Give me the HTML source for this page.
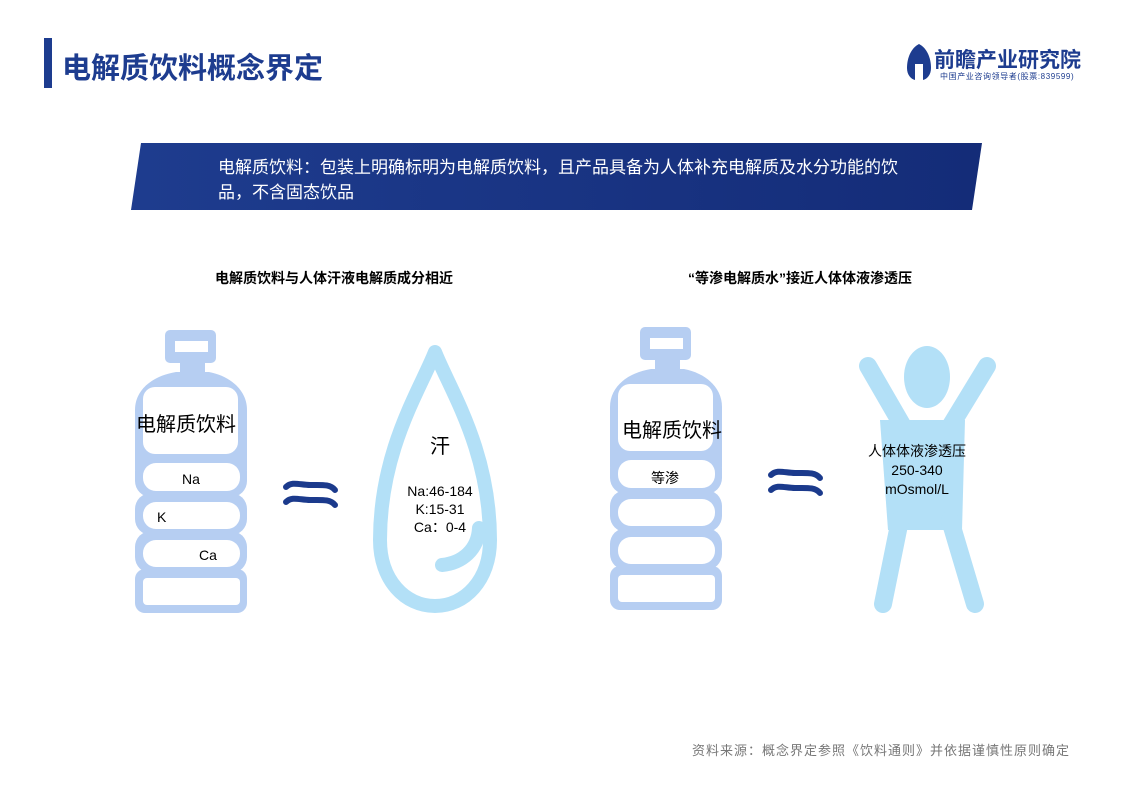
<!DOCTYPE html>
<html><head><meta charset="utf-8"><style>
body{margin:0;width:1123px;height:793px;background:#fff;position:relative;overflow:hidden;font-family:"Liberation Sans","Noto Sans CJK SC",sans-serif}
.a{position:absolute;white-space:nowrap}
</style></head><body>
<div class="a" style="left:44px;top:38px;width:8px;height:50px;background:#1d3c8f"></div>
<div class="a" style="left:62px;top:45px;font-size:29px;color:#1d3c8f;font-weight:bold;letter-spacing:0px">电解质饮料概念界定</div>
<svg class="a" style="left:907px;top:44px" width="24" height="36"><path d="M12 0 C4 4 0 14 0 24 C0 31 4 35 8 36 L8 20 L16 20 L16 36 C20 35 24 31 24 24 C24 14 20 4 12 0Z" fill="#1d3c8f"/></svg>
<div class="a" style="left:934px;top:44px;font-size:21px;color:#1d3c8f;font-weight:bold">前瞻产业研究院</div>
<div class="a" style="left:940px;top:71px;font-size:8px;color:#1d3c8f;letter-spacing:0.6px">中国产业咨询领导者(股票:839599)</div>
<svg class="a" style="left:0;top:0" width="1123" height="793">
<defs><linearGradient id="g" x1="0" x2="1"><stop offset="0" stop-color="#1e3c8e"/><stop offset="1" stop-color="#142c78"/></linearGradient></defs>
<polygon points="141,143 982,143 972,210 131,210" fill="url(#g)"/>
<g fill="#b6cef2">
<rect x="165" y="330" width="51" height="33" rx="5"/>
<rect x="180" y="360" width="25" height="18"/>
<path d="M176 372 L209 372 C230 376 247 390 247 410 L247 470 L135 470 L135 410 C135 390 152 376 176 372Z"/>
<rect x="135" y="455" width="112" height="42" rx="16"/>
<rect x="135" y="493" width="112" height="42" rx="16"/>
<rect x="135" y="531" width="112" height="42" rx="16"/>
<rect x="135" y="569" width="112" height="44" rx="10"/>
</g>
<g fill="#fff">
<rect x="175" y="341" width="33" height="11"/>
<rect x="143" y="387" width="95" height="67" rx="12"/>
<rect x="143" y="463" width="97" height="28" rx="13"/>
<rect x="143" y="502" width="97" height="27" rx="13"/>
<rect x="143" y="540" width="97" height="27" rx="13"/>
<rect x="143" y="578" width="97" height="27" rx="4"/>
</g>
<g transform="translate(475,-3)">
<g fill="#b6cef2">
<rect x="165" y="330" width="51" height="33" rx="5"/>
<rect x="180" y="360" width="25" height="18"/>
<path d="M176 372 L209 372 C230 376 247 390 247 410 L247 470 L135 470 L135 410 C135 390 152 376 176 372Z"/>
<rect x="135" y="455" width="112" height="42" rx="16"/>
<rect x="135" y="493" width="112" height="42" rx="16"/>
<rect x="135" y="531" width="112" height="42" rx="16"/>
<rect x="135" y="569" width="112" height="44" rx="10"/>
</g>
<g fill="#fff">
<rect x="175" y="341" width="33" height="11"/>
<rect x="143" y="387" width="95" height="67" rx="12"/>
<rect x="143" y="463" width="97" height="28" rx="13"/>
<rect x="143" y="502" width="97" height="27" rx="13"/>
<rect x="143" y="540" width="97" height="27" rx="13"/>
<rect x="143" y="578" width="97" height="27" rx="4"/>
</g></g>
<path d="M435 352 C420 390 380 450 380 540 C380 580 405 606 435 606 C465 606 490 580 490 540 C490 450 450 390 435 352Z" fill="none" stroke="#b3e0f7" stroke-width="14" stroke-linejoin="round"/>
<path d="M479 528 C478 550 462 563 442 565" fill="none" stroke="#b3e0f7" stroke-width="14" stroke-linecap="round"/>
<g fill="none" stroke="#1b3a8c" stroke-width="6" stroke-linecap="round">
<path d="M286 487 C292 481 300 485 310 485 C322 485 330 484 335 490"/>
<path d="M286 502 C292 496 300 500 310 500 C322 500 330 499 335 505"/>
<path d="M771 475 C777 469 785 473 795 473 C807 473 815 472 820 478"/>
<path d="M771 490 C777 484 785 488 795 488 C807 488 815 487 820 493"/>
</g>
<g fill="#b3e0f7" stroke="#b3e0f7">
<ellipse cx="927" cy="377" rx="23" ry="31" stroke="none"/>
<path d="M868 366 L905 430 M987 366 L948 430" stroke-width="18" stroke-linecap="round" fill="none"/>
<path d="M880 420 L965 420 L962 530 L888 530Z" stroke="none"/>
<path d="M900 520 L883 604 M950 520 L975 604" stroke-width="18" stroke-linecap="round" fill="none"/>
</g>
</svg>
<div class="a" style="left:218px;top:155px;font-size:17px;color:#fff;line-height:25px">电解质饮料：包装上明确标明为电解质饮料，且产品具备为人体补充电解质及水分功能的饮<br>品，不含固态饮品</div>
<div class="a" style="left:215px;top:268px;font-size:14px;font-weight:bold">电解质饮料与人体汗液电解质成分相近</div>
<div class="a" style="left:688px;top:268px;font-size:14px;font-weight:bold">“等渗电解质水”接近人体体液渗透压</div>
<div class="a" style="left:136px;top:408px;font-size:20px">电解质饮料</div>
<div class="a" style="left:182px;top:471px;font-size:14px">Na</div>
<div class="a" style="left:157px;top:509px;font-size:14px">K</div>
<div class="a" style="left:199px;top:547px;font-size:14px">Ca</div>
<div class="a" style="left:430px;top:430px;font-size:20px">汗</div>
<div class="a" style="left:405px;top:482px;font-size:14px;line-height:18px;text-align:center;width:70px">Na:46-184<br>K:15-31<br>Ca：0-4</div>
<div class="a" style="left:622px;top:414px;font-size:20px">电解质饮料</div>
<div class="a" style="left:651px;top:468px;font-size:14px">等渗</div>
<div class="a" style="left:862px;top:442px;font-size:14px;line-height:19px;text-align:center;width:110px">人体体液渗透压<br>250-340<br>mOsmol/L</div>
<div class="a" style="left:692px;top:740px;font-size:13px;color:#777;letter-spacing:1px">资料来源：概念界定参照《饮料通则》并依据谨慎性原则确定</div>
</body></html>
